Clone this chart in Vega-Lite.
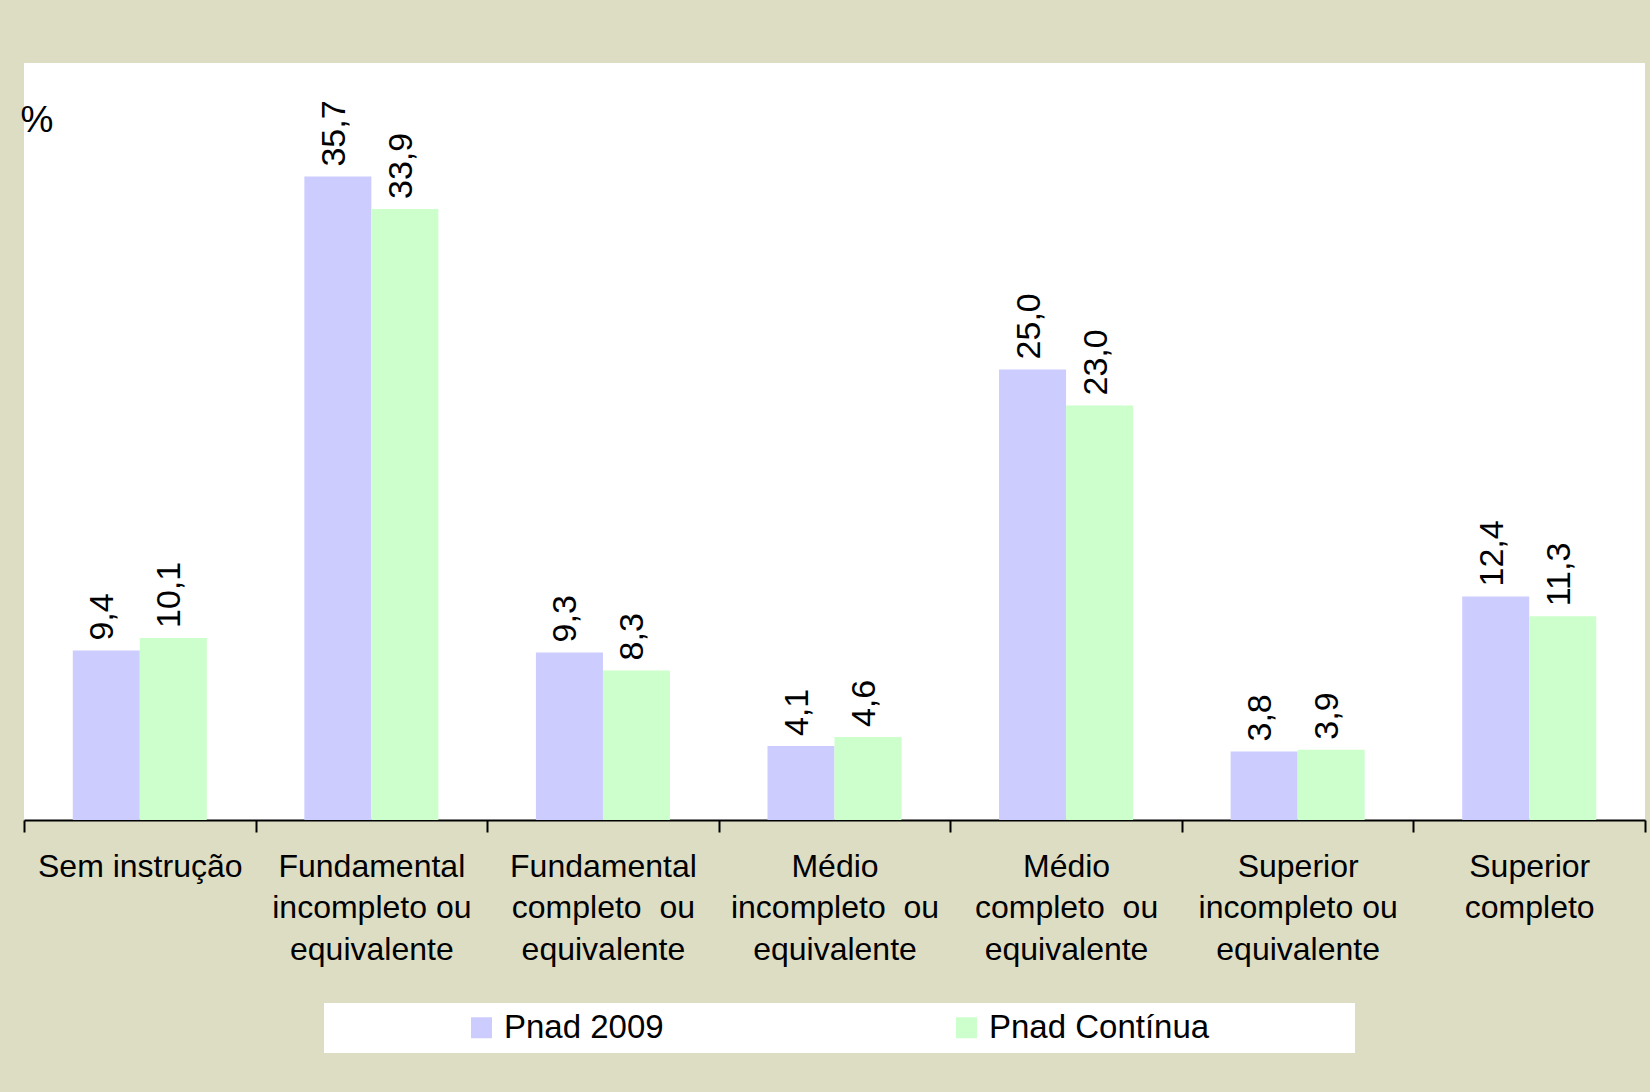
{
  "$schema": "https://vega.github.io/schema/vega-lite/v6.json",
  "width": 1621,
  "height": 757,
  "autosize": {"type": "none"},
  "padding": {"left": 24, "top": 63, "right": 5, "bottom": 272},
  "background": "#DDDDC4",
  "config": {
    "view": {"fill": "white", "stroke": null},
    "font": "Liberation Sans",
    "locale": {"number": {"decimal": ",", "thousands": ".", "grouping": [3], "currency": ["R$", ""]}}
  },
  "data": {
    "values": [
      {"cat": "Sem instrução", "serie": "Pnad 2009", "valor": 9.4},
      {"cat": "Sem instrução", "serie": "Pnad Contínua", "valor": 10.1},
      {"cat": "Fundamental incompleto ou equivalente", "serie": "Pnad 2009", "valor": 35.7},
      {"cat": "Fundamental incompleto ou equivalente", "serie": "Pnad Contínua", "valor": 33.9},
      {"cat": "Fundamental completo ou equivalente", "serie": "Pnad 2009", "valor": 9.3},
      {"cat": "Fundamental completo ou equivalente", "serie": "Pnad Contínua", "valor": 8.3},
      {"cat": "Médio incompleto ou equivalente", "serie": "Pnad 2009", "valor": 4.1},
      {"cat": "Médio incompleto ou equivalente", "serie": "Pnad Contínua", "valor": 4.6},
      {"cat": "Médio completo ou equivalente", "serie": "Pnad 2009", "valor": 25.0},
      {"cat": "Médio completo ou equivalente", "serie": "Pnad Contínua", "valor": 23.0},
      {"cat": "Superior incompleto ou equivalente", "serie": "Pnad 2009", "valor": 3.8},
      {"cat": "Superior incompleto ou equivalente", "serie": "Pnad Contínua", "valor": 3.9},
      {"cat": "Superior completo", "serie": "Pnad 2009", "valor": 12.4},
      {"cat": "Superior completo", "serie": "Pnad Contínua", "valor": 11.3}
    ]
  },
  "encoding": {
    "x": {
      "field": "cat",
      "type": "nominal",
      "sort": ["Sem instrução", "Fundamental incompleto ou equivalente", "Fundamental completo ou equivalente", "Médio incompleto ou equivalente", "Médio completo ou equivalente", "Superior incompleto ou equivalente", "Superior completo"],
      "scale": {"paddingInner": 0, "paddingOuter": 0},
      "axis": {
        "title": null,
        "labelAngle": 0,
        "labelFontSize": 32,
        "labelColor": "black",
        "labelLineHeight": 41.5,
        "labelBaseline": "top",
        "labelPadding": 19,
        "labelLimit": 400,
        "labelOverlap": false,
        "labelFlush": false,
        "tickBand": "extent",
        "tickSize": 12,
        "tickWidth": 2,
        "tickColor": "black",
        "domainColor": "black",
        "domainWidth": 2,
        "labelExpr": "{'Sem instrução': 'Sem instrução', 'Fundamental incompleto ou equivalente': ['Fundamental', 'incompleto ou', 'equivalente'], 'Fundamental completo ou equivalente': ['Fundamental', 'completo\u00a0\u00a0ou', 'equivalente'], 'Médio incompleto ou equivalente': ['Médio', 'incompleto\u00a0\u00a0ou', 'equivalente'], 'Médio completo ou equivalente': ['Médio', 'completo\u00a0\u00a0ou', 'equivalente'], 'Superior incompleto ou equivalente': ['Superior', 'incompleto ou', 'equivalente'], 'Superior completo': ['Superior', 'completo']}[datum.label]"
      }
    },
    "xOffset": {
      "field": "serie",
      "type": "nominal",
      "sort": ["Pnad 2009", "Pnad Contínua"],
      "scale": {"paddingInner": 0, "paddingOuter": 0.728}
    },
    "y": {
      "field": "valor",
      "type": "quantitative",
      "scale": {"domain": [0, 42], "nice": false, "zero": true},
      "axis": {
        "labels": false,
        "ticks": false,
        "domain": false,
        "grid": false,
        "title": "%",
        "titleAngle": 0,
        "titleX": -4,
        "titleY": 68,
        "titleAlign": "left",
        "titleBaseline": "alphabetic",
        "titleFontSize": 37,
        "titleFontWeight": "normal",
        "titleColor": "black"
      }
    }
  },
  "layer": [
    {
      "mark": {"type": "bar"},
      "encoding": {
        "color": {
          "field": "serie",
          "type": "nominal",
          "scale": {"domain": ["Pnad 2009", "Pnad Contínua"], "range": ["#CCCCFF", "#CCFFCC"]},
          "legend": {
            "orient": "none",
            "legendX": 300,
            "legendY": 940,
            "direction": "horizontal",
            "title": " ",
            "titleOrient": "left",
            "titleFontSize": 33,
            "titlePadding": 133,
            "fillColor": "white",
            "padding": 8,
            "symbolType": "square",
            "symbolSize": 441,
            "symbolStrokeWidth": 0,
            "symbolOpacity": 1,
            "labelFontSize": 33,
            "labelColor": "black",
            "labelOffset": 6,
            "labelLimit": 600,
            "columnPadding": 286,
            "labelExpr": "datum.label == 'Pnad Contínua' ? datum.label + '\u00a0\u00a0\u00a0\u00a0\u00a0\u00a0\u00a0\u00a0\u00a0\u00a0\u00a0\u00a0\u00a0\u00a0\u00a0\u200b' : datum.label"
          }
        }
      }
    },
    {
      "mark": {"type": "text", "angle": 270, "align": "left", "baseline": "middle", "dx": 10, "dy": -3, "fontSize": 34, "color": "black"},
      "encoding": {
        "text": {"field": "valor", "type": "quantitative", "format": ".1f"}
      }
    }
  ]
}
